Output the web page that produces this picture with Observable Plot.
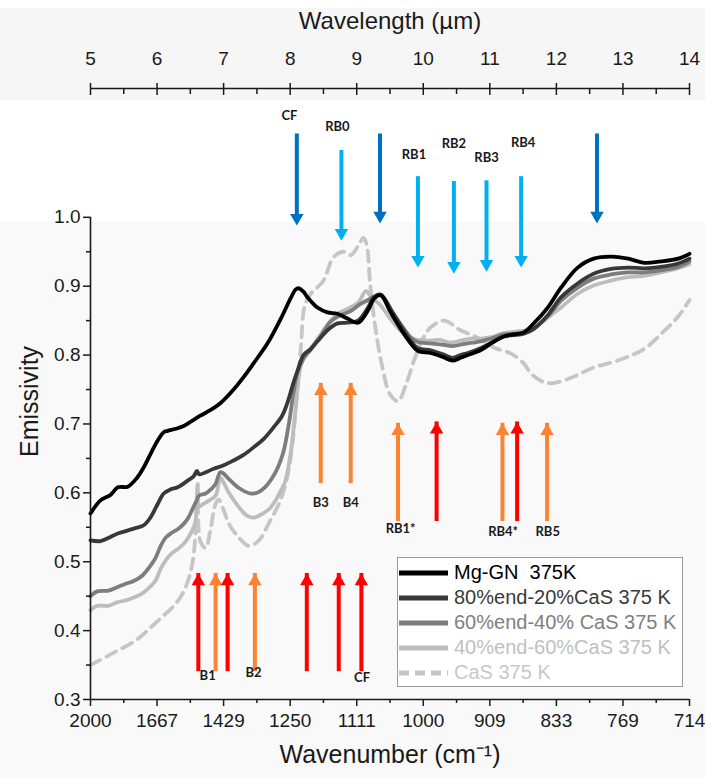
<!DOCTYPE html>
<html><head><meta charset="utf-8">
<script src="https://cdn.jsdelivr.net/npm/d3@7"></script>
<script src="https://cdn.jsdelivr.net/npm/@observablehq/plot@0.6"></script>
<style>
body{margin:0;background:#fff;font-family:"Liberation Sans",Arial,sans-serif;}
#wrap{position:relative;width:705px;height:778px;background:linear-gradient(#fff 0 8px,#f6f6f6 8px 100px,#fff 100px 222px,#f9f9f9 222px);}
#legend{position:absolute;left:397px;top:557px;width:286px;height:130px;border:1px solid #9a9a9a;background:#fff;box-sizing:border-box;padding-top:2px;}
.row{display:flex;align-items:center;height:25px;white-space:pre;font-size:20px;font-family:"Liberation Sans",Arial,sans-serif;}
.row svg{margin-right:4px;flex:none;}
</style></head>
<body><div id="wrap"></div>
<script>
// ---- data: [wavelength (µm), emissivity] ----
const mgGN = [[5.00,0.570],[5.15,0.589],[5.30,0.597],[5.41,0.608],[5.56,0.609],[5.70,0.622],[5.80,0.637],[5.92,0.660],[6.01,0.676],[6.10,0.688],[6.16,0.690],[6.28,0.693],[6.40,0.697],[6.52,0.704],[6.65,0.712],[6.80,0.720],[6.95,0.730],[7.15,0.750],[7.30,0.768],[7.45,0.788],[7.66,0.817],[7.86,0.853],[8.01,0.883],[8.08,0.895],[8.13,0.897],[8.20,0.892],[8.26,0.884],[8.41,0.869],[8.56,0.862],[8.71,0.860],[8.86,0.853],[9.02,0.847],[9.17,0.865],[9.26,0.882],[9.36,0.887],[9.51,0.862],[9.66,0.838],[9.81,0.817],[9.92,0.806],[10.11,0.803],[10.30,0.797],[10.44,0.792],[10.56,0.796],[10.67,0.800],[10.86,0.807],[11.02,0.817],[11.21,0.827],[11.35,0.830],[11.51,0.833],[11.66,0.846],[11.87,0.869],[12.07,0.898],[12.32,0.927],[12.56,0.940],[12.82,0.943],[13.08,0.940],[13.32,0.934],[13.57,0.936],[13.83,0.940],[14.00,0.947]];
const end80 = [[5.00,0.531],[5.15,0.530],[5.30,0.536],[5.41,0.541],[5.65,0.548],[5.80,0.553],[5.90,0.564],[6.00,0.582],[6.10,0.599],[6.20,0.605],[6.31,0.608],[6.45,0.617],[6.55,0.624],[6.60,0.632],[6.63,0.627],[6.85,0.635],[7.00,0.640],[7.15,0.647],[7.30,0.655],[7.45,0.666],[7.60,0.678],[7.75,0.695],[7.88,0.712],[7.96,0.731],[8.05,0.760],[8.11,0.777],[8.20,0.800],[8.30,0.808],[8.41,0.820],[8.56,0.836],[8.71,0.846],[8.86,0.847],[9.02,0.850],[9.17,0.869],[9.26,0.884],[9.36,0.888],[9.51,0.867],[9.66,0.843],[9.81,0.821],[9.92,0.810],[10.11,0.807],[10.30,0.801],[10.44,0.796],[10.56,0.800],[10.67,0.803],[10.86,0.810],[11.02,0.818],[11.21,0.827],[11.35,0.829],[11.51,0.831],[11.66,0.838],[11.87,0.858],[12.07,0.884],[12.32,0.904],[12.56,0.918],[12.82,0.925],[13.08,0.927],[13.32,0.926],[13.57,0.928],[13.83,0.933],[14.00,0.940]];
const end60 = [[5.00,0.450],[5.10,0.457],[5.27,0.458],[5.40,0.463],[5.53,0.468],[5.65,0.472],[5.78,0.480],[5.90,0.494],[5.98,0.506],[6.05,0.522],[6.13,0.535],[6.22,0.542],[6.32,0.548],[6.40,0.555],[6.47,0.564],[6.55,0.580],[6.60,0.590],[6.63,0.596],[6.73,0.599],[6.82,0.606],[6.88,0.613],[6.95,0.630],[7.00,0.628],[7.08,0.620],[7.23,0.607],[7.41,0.599],[7.52,0.601],[7.62,0.608],[7.72,0.620],[7.82,0.638],[7.90,0.660],[7.98,0.700],[8.05,0.745],[8.11,0.775],[8.20,0.795],[8.31,0.808],[8.46,0.828],[8.61,0.849],[8.76,0.858],[8.91,0.864],[9.05,0.874],[9.17,0.880],[9.26,0.885],[9.36,0.887],[9.51,0.865],[9.66,0.845],[9.81,0.826],[9.92,0.819],[10.11,0.817],[10.30,0.815],[10.44,0.813],[10.60,0.816],[10.86,0.820],[11.02,0.824],[11.21,0.830],[11.35,0.831],[11.51,0.832],[11.66,0.838],[11.87,0.856],[12.07,0.879],[12.32,0.898],[12.56,0.911],[12.82,0.917],[13.08,0.920],[13.32,0.920],[13.57,0.923],[13.83,0.928],[14.00,0.936]];
const end40 = [[5.00,0.430],[5.10,0.436],[5.27,0.436],[5.40,0.441],[5.53,0.444],[5.65,0.448],[5.78,0.454],[5.90,0.464],[5.98,0.473],[6.05,0.489],[6.13,0.502],[6.22,0.512],[6.32,0.519],[6.40,0.526],[6.47,0.535],[6.55,0.550],[6.58,0.560],[6.61,0.613],[6.63,0.580],[6.68,0.583],[6.75,0.587],[6.88,0.596],[6.95,0.622],[7.00,0.615],[7.08,0.600],[7.23,0.579],[7.35,0.567],[7.45,0.564],[7.59,0.570],[7.70,0.578],[7.78,0.589],[7.87,0.605],[7.93,0.618],[8.01,0.660],[8.08,0.720],[8.16,0.785],[8.25,0.803],[8.31,0.810],[8.46,0.830],[8.61,0.850],[8.71,0.860],[8.86,0.867],[9.02,0.876],[9.14,0.893],[9.21,0.885],[9.36,0.872],[9.51,0.852],[9.66,0.835],[9.81,0.824],[10.11,0.821],[10.25,0.822],[10.41,0.818],[10.56,0.821],[10.71,0.824],[10.86,0.824],[11.02,0.826],[11.21,0.832],[11.47,0.835],[11.62,0.837],[11.81,0.850],[12.07,0.869],[12.32,0.889],[12.56,0.901],[12.82,0.908],[13.08,0.913],[13.32,0.915],[13.57,0.920],[13.83,0.926],[14.00,0.932]];
const CaS = [[5.00,0.350],[5.33,0.367],[5.68,0.386],[6.02,0.415],[6.28,0.439],[6.43,0.463],[6.53,0.497],[6.58,0.545],[6.61,0.603],[6.65,0.530],[6.73,0.520],[6.80,0.545],[6.88,0.584],[6.93,0.590],[7.00,0.575],[7.08,0.555],[7.23,0.535],[7.38,0.523],[7.53,0.531],[7.68,0.556],[7.83,0.584],[7.93,0.612],[8.02,0.660],[8.10,0.740],[8.16,0.810],[8.22,0.872],[8.31,0.889],[8.50,0.908],[8.65,0.942],[8.80,0.950],[8.91,0.945],[9.02,0.958],[9.10,0.970],[9.15,0.960],[9.20,0.905],[9.28,0.840],[9.38,0.785],[9.50,0.743],[9.62,0.733],[9.75,0.760],[9.86,0.792],[10.00,0.825],[10.11,0.840],[10.31,0.850],[10.56,0.836],[10.82,0.825],[11.06,0.811],[11.32,0.802],[11.51,0.788],[11.62,0.773],[11.78,0.762],[11.92,0.759],[12.22,0.767],[12.56,0.782],[12.92,0.792],[13.32,0.809],[13.62,0.835],[13.83,0.856],[14.00,0.880]];

// axis ticks
const wlTicks = [5,6,7,8,9,10,11,12,13,14];
const wlMinor = [5.5,6.5,7.5,8.5,9.5,10.5,11.5,12.5,13.5];
const wnLabels = ["2000","1667","1429","1250","1111","1000","909","833","769","714"];
const yMajor = [0.3,0.4,0.5,0.6,0.7,0.8,0.9,1.0];
const yMinor = [0.35,0.45,0.55,0.65,0.75,0.85,0.95];
const yTop = 1.187;

// arrows (wavelength, tail, tip, colour)
const downWl   = [8.10, 8.77, 9.35, 9.92, 10.46, 10.95, 11.47, 12.61];
const downTail = [1.121,1.097,1.121,1.059,1.052,1.053,1.059,1.121];
const downTip  = [0.988,0.966,0.991,0.927,0.918,0.921,0.927,0.991];
const downCol  = ["dark","light","dark","light","light","light","light","dark"];
const upWl   = [8.46, 8.91, 9.62, 10.20, 11.19, 11.41, 11.86, 6.62, 6.88, 7.06, 7.47, 8.25, 8.73, 9.07];
const upTail = [0.625,0.625,0.570,0.570,0.570,0.570,0.570, 0.352,0.352,0.352,0.352,0.352,0.352,0.352];
const upTip  = [0.759,0.759,0.701,0.703,0.701,0.703,0.701, 0.483,0.483,0.483,0.483,0.483,0.483,0.483];
const upCol  = ["orange","orange","orange","red","orange","red","orange","red","orange","red","orange","red","red","red"];
const labelText = ["CF","RB0","RB1","RB2","RB3","RB4","B3","B4","RB1*","RB4*","RB5","B1","B2","CF"];
const labelWl   = [7.99,8.71,9.86,10.46,10.95,11.50,8.46,8.91,9.66,11.20,11.87,6.76,7.45,9.08];
const labelE    = [1.148,1.132,1.091,1.107,1.087,1.108,0.586,0.586,0.548,0.544,0.544,0.335,0.339,0.332];

const palette = {dark:"#0070c0", light:"#00b0f0", orange:"#fb8332", red:"#ff0000"};

const series = [
  {name:"CaS 375 K", data:CaS, color:"#c6c6c6", text:"#c8c8c8", dash:"11,7"},
  {name:"40%end-60%CaS 375 K", data:end40, color:"#bdbdbd", text:"#bfbfbf"},
  {name:"60%end-40% CaS 375 K", data:end60, color:"#7d7d7d", text:"#808080"},
  {name:"80%end-20%CaS 375 K", data:end80, color:"#383838", text:"#3a3a3a"},
  {name:"Mg-GN  375K", data:mgGN, color:"#000000", text:"#000000"}
];

const down = downWl.map((w,i)=>({wl:w, tail:downTail[i], tip:downTip[i], c:palette[downCol[i]]}));
const up = upWl.map((w,i)=>({wl:w, tail:upTail[i], tip:upTip[i], c:palette[upCol[i]]}));
const labels = labelText.map((t,i)=>({t, wl:labelWl[i], e:labelE[i]}));

const fmtY = d3.format(".1f");
const blank = () => "";
const chart = Plot.plot({
  width:705, height:778, marginLeft:90, marginRight:16, marginTop:88, marginBottom:79,
  style:{background:"transparent", fontFamily:"'Liberation Sans', Arial, sans-serif", color:"#1a1a1a", overflow:"visible"},
  x:{domain:[5,14]},
  y:{domain:[0.3, yTop]},
  marks:[
    ...series.map(s=>Plot.line(s.data,{x:d=>d[0], y:d=>d[1], stroke:s.color, strokeWidth:3.8, strokeDasharray:s.dash, curve:"catmull-rom"})),
    // down arrows
    Plot.ruleX(down,{x:"wl", y1:"tail", y2:"tip", stroke:"c", strokeWidth:4, insetBottom:8}),
    Plot.dot(down,{x:"wl", y:"tip", symbol:"triangle", r:5, fill:"c", rotate:180, dy:-7.8}),
    // up arrows
    Plot.ruleX(up,{x:"wl", y1:"tail", y2:"tip", stroke:"c", strokeWidth:4, insetTop:8}),
    Plot.dot(up,{x:"wl", y:"tip", symbol:"triangle", r:5, fill:"c", dy:7.8}),
    Plot.text(labels,{x:"wl", y:"e", text:"t", fontSize:13, fontWeight:"bold", fontFamily:"Lato, 'Open Sans', sans-serif", fill:"#1a1a1a"}),
    // left axis
    Plot.ruleX([5],{y1:d3.min(yMajor), y2:d3.max(yMajor), strokeWidth:1.6}),
    Plot.axisY({ticks:yMajor, tickFormat:fmtY, tickSize:7, tickPadding:3, fontSize:19, label:null, strokeWidth:1.5}),
    Plot.axisY({ticks:yMinor, tickFormat:blank, tickSize:4, label:null, strokeWidth:1.5}),
    // bottom axis
    Plot.ruleY([0.3],{strokeWidth:1.6}),
    Plot.axisX({anchor:"bottom", ticks:wlTicks, tickFormat:d=>wnLabels[wlTicks.indexOf(d)], tickSize:7, tickPadding:7, fontSize:19, label:null, strokeWidth:1.5}),
    Plot.axisX({anchor:"bottom", ticks:wlMinor, tickFormat:blank, tickSize:4, label:null, strokeWidth:1.5}),
    // top axis
    Plot.ruleY([yTop],{strokeWidth:1.6}),
    Plot.axisX({anchor:"top", ticks:wlTicks, tickFormat:d=>String(d), tickSize:6, tickPadding:18, fontSize:19, label:null, strokeWidth:1.5}),
    Plot.axisX({anchor:"top", ticks:wlTicks, tickFormat:blank, tickSize:6, dy:6, label:null, strokeWidth:1.5}),
    Plot.axisX({anchor:"top", ticks:wlMinor, tickFormat:blank, tickSize:5, dy:5, label:null, strokeWidth:1.5}),
    // axis titles
    Plot.text(["Emissivity"],{frameAnchor:"left", dx:-61, dy:63, rotate:-90, fontSize:25, fill:"#1a1a1a"}),
    Plot.text(["Wavenumber (cm⁻¹)"],{frameAnchor:"bottom", dy:63, fontSize:25, fill:"#1a1a1a"}),
    Plot.text(["Wavelength (µm)"],{frameAnchor:"top", dy:-77, fontSize:24, fill:"#1a1a1a"})
  ]
});
const wrap = document.getElementById("wrap");
wrap.appendChild(chart);

// legend
const leg = document.createElement("div");
leg.id = "legend";
series.slice().reverse().forEach(s=>{
  const row = document.createElement("div");
  row.className = "row";
  row.style.color = s.text;
  const ns = "http://www.w3.org/2000/svg";
  const sv = document.createElementNS(ns,"svg");
  sv.setAttribute("width","52"); sv.setAttribute("height","10");
  const ln = document.createElementNS(ns,"line");
  ln.setAttribute("x1","1"); ln.setAttribute("x2","50"); ln.setAttribute("y1","5"); ln.setAttribute("y2","5");
  ln.setAttribute("stroke", s.color); ln.setAttribute("stroke-width","5");
  if (s.dash) ln.setAttribute("stroke-dasharray","10,6");
  sv.appendChild(ln);
  row.appendChild(sv);
  row.appendChild(document.createTextNode(s.name));
  leg.appendChild(row);
});
wrap.appendChild(leg);
</script>
</body></html>
